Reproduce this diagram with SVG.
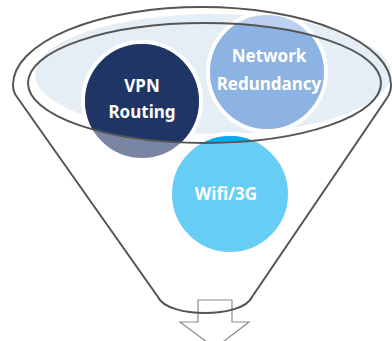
<svg xmlns="http://www.w3.org/2000/svg" width="392" height="341" viewBox="0 0 392 341">
<defs>
<style>
.lbl{font-family:"Noto Sans","Open Sans","DejaVu Sans",sans-serif;font-weight:bold;font-size:17px;fill:#ffffff;text-anchor:middle}
.halo{stroke:#ffffff;stroke-width:4}
.line{fill:none;stroke:#555555;stroke-width:2}
</style>
<clipPath id="inner"><ellipse cx="204.5" cy="83" rx="176.5" ry="60"/></clipPath>
</defs>
<rect width="392" height="341" fill="#ffffff"/>
<g id="arrow">
<path d="M198,300 H232 V322 H249 L215,348 L180,322 H198 Z" fill="#ffffff" stroke="#8c8c8c" stroke-width="1.2"/>
</g>
<g id="fill-band">
<ellipse cx="213" cy="74" rx="178" ry="60" fill="#e5eef4"/>
</g>
<g id="vpn-routing">
<circle cx="142" cy="101" r="59" fill="#7886a3" class="halo"/>
<circle cx="142" cy="101" r="57" fill="#1e3566" clip-path="url(#inner)"/>
<text class="lbl" x="142" y="92">VPN</text>
<text class="lbl" x="142" y="118">Routing</text>
</g>
<g id="network-redundancy">
<circle cx="267" cy="72" r="59" fill="#bbd1ee" class="halo"/>
<circle cx="267" cy="72" r="57" fill="#8db3e2" clip-path="url(#inner)"/>
<text class="lbl" x="269" y="62">Network</text>
<text class="lbl" x="269" y="90">Redundancy</text>
</g>
<g id="wifi-3g">
<circle cx="230" cy="194" r="60" fill="#66cef5" class="halo"/>
<circle cx="230" cy="194" r="58" fill="#00aeef" clip-path="url(#inner)"/>
<text class="lbl" x="226" y="200">Wifi/3G</text>
</g>
<g id="connectors">
<ellipse class="line" cx="204.5" cy="83" rx="176.5" ry="60"/>
<path class="line" d="M17,97 Q13,92 13,85 A189,78 0 0 1 391,85 Q391,92 387,98 L252,297 C247,308 225,313 205,313 C185,313 163,308 158,297 Z"/>
</g>
</svg>
